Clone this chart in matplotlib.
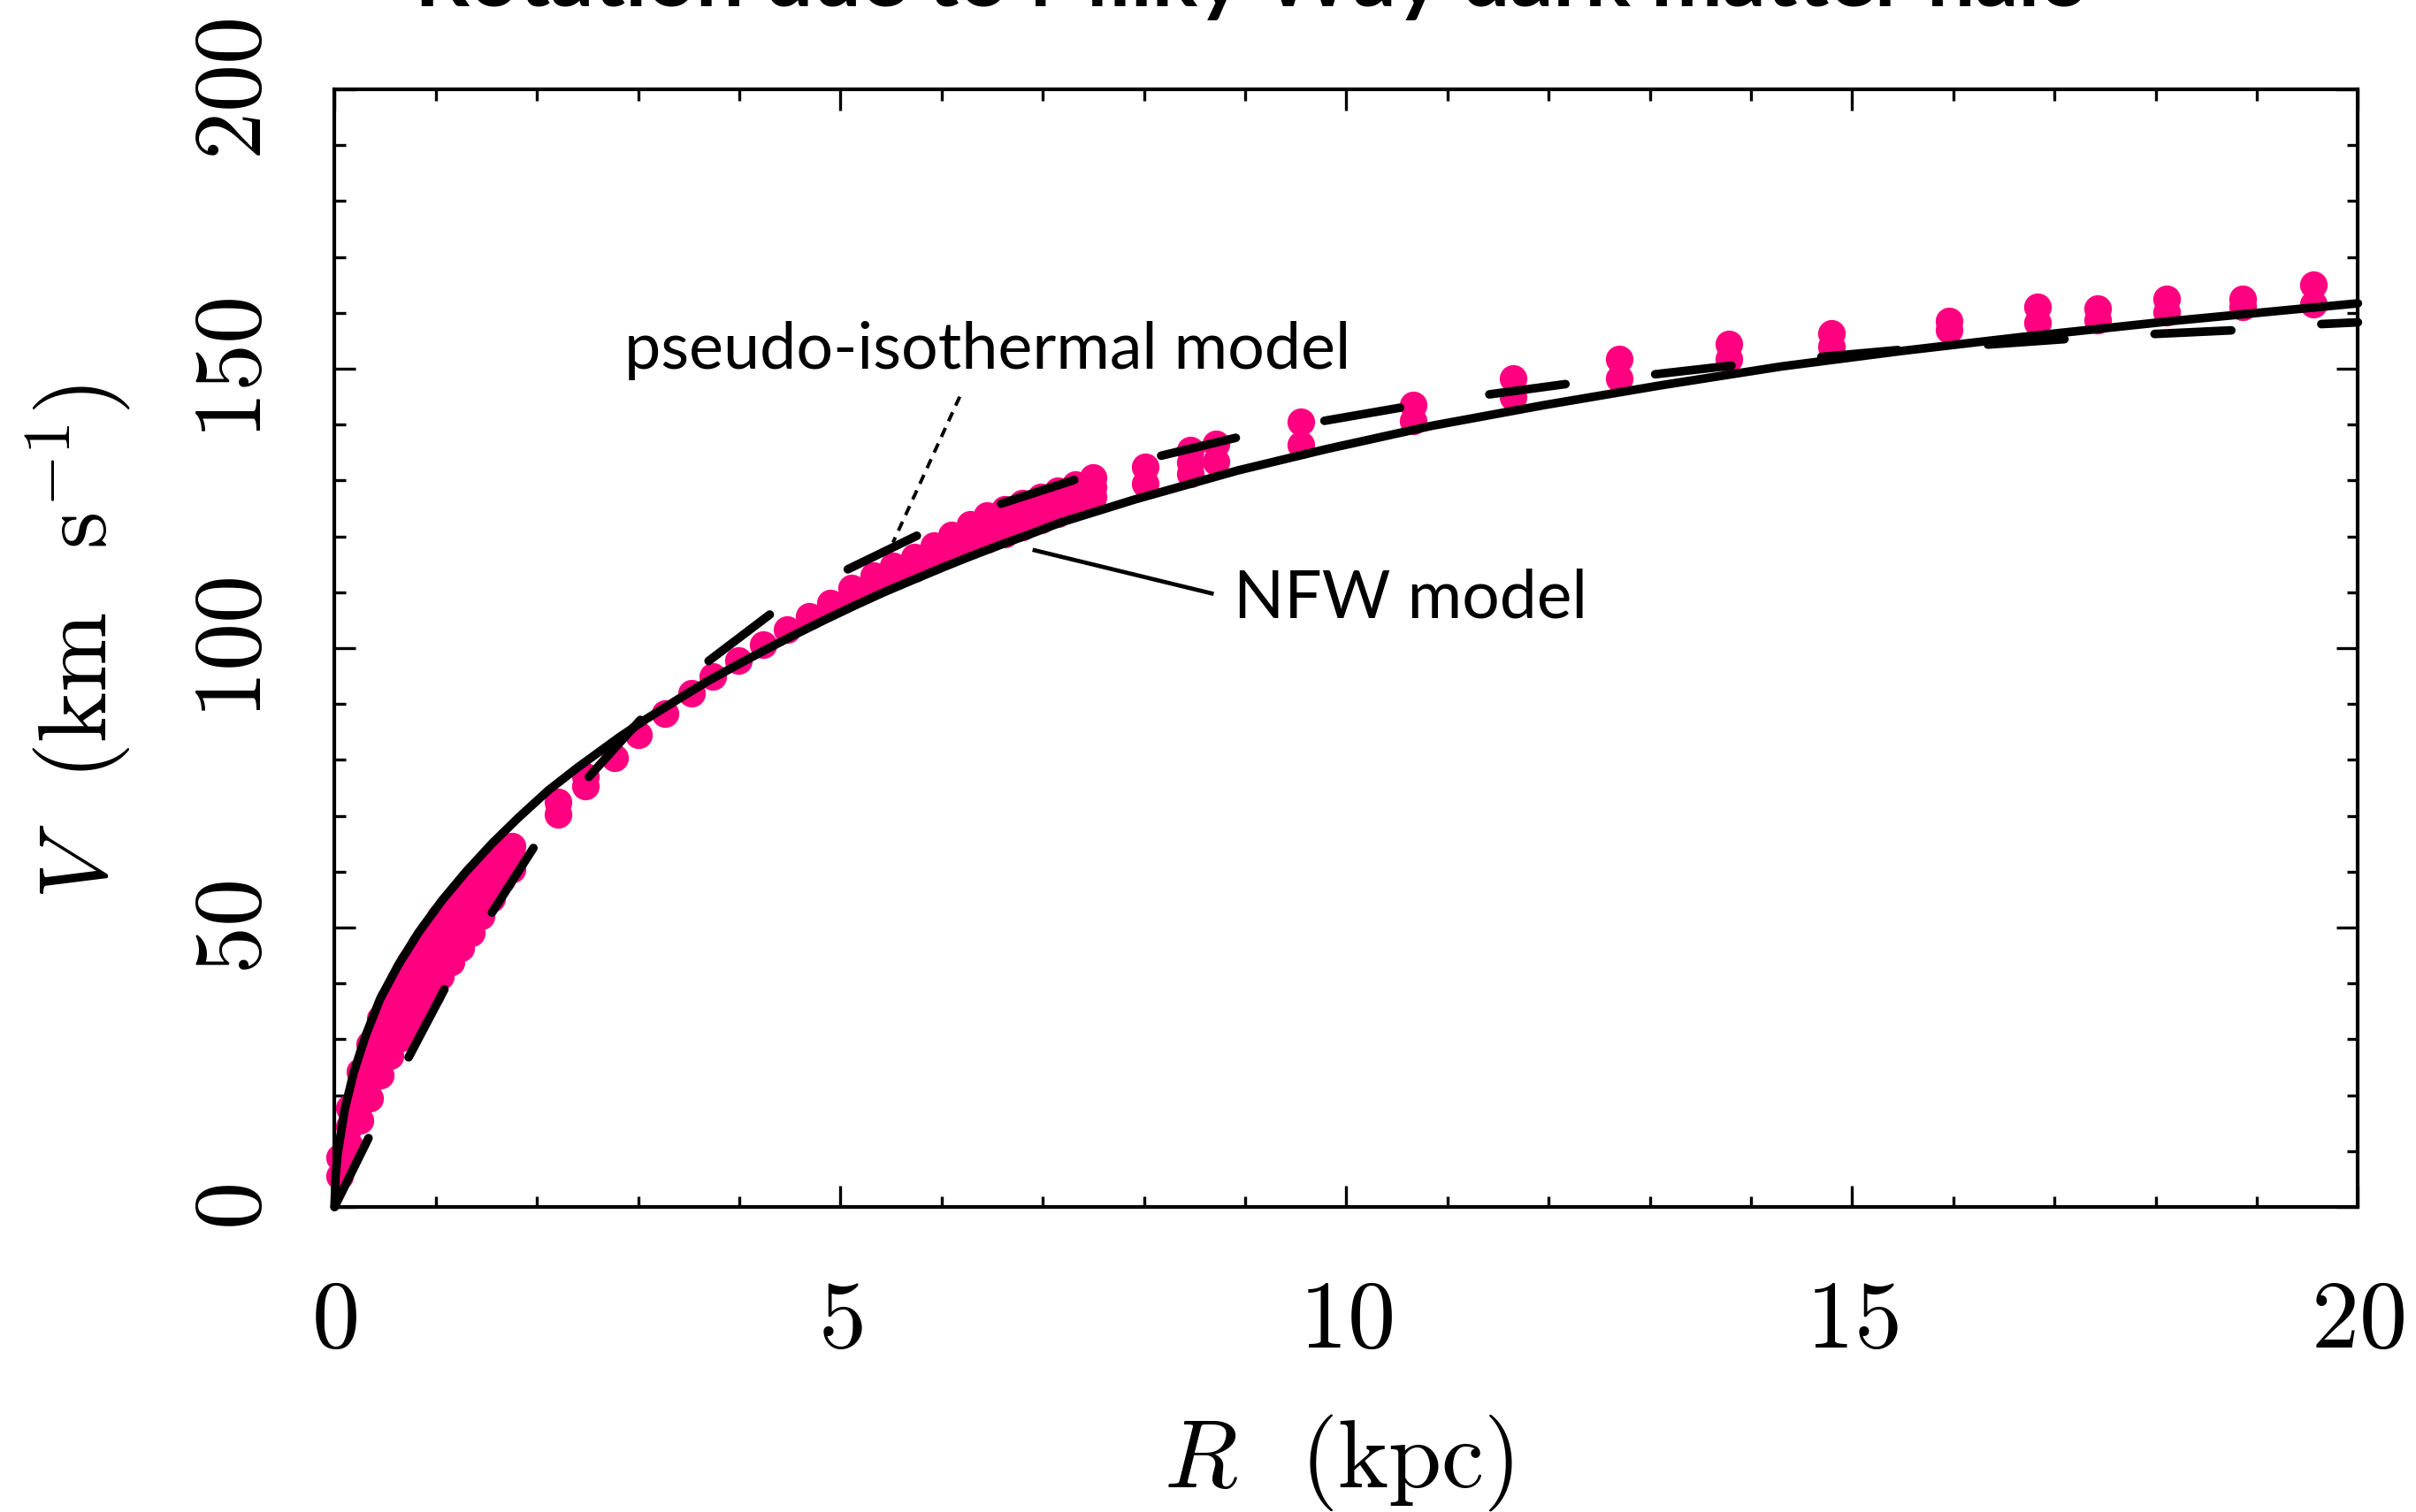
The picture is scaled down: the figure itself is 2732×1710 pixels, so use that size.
import matplotlib
matplotlib.use("Agg")
import matplotlib.pyplot as plt
from matplotlib.ticker import MultipleLocator

plt.rcParams.update({
    "font.family": "cmr10",
    "mathtext.fontset": "cm",
    "axes.formatter.use_mathtext": True,
    "lines.scale_dashes": False,
})

PINK = "#ff0080"

# ---------------------------------------------------------------------------
# Halo rotation samples (R in kpc, V in km/s)
# ---------------------------------------------------------------------------
# Inner region: several velocity samples per radius
inner_r = [0.05, 0.15, 0.25, 0.35, 0.45, 0.55, 0.65, 0.75, 0.85,
           0.95, 1.05, 1.15, 1.25, 1.35, 1.45, 1.55, 1.65, 1.75]
inner_v = [
    [5.5, 8.8],
    [11.0, 14.4, 17.8],
    [15.5, 19.9, 24.2],
    [19.5, 22.7, 25.9, 29.1],
    [23.6, 27.0, 30.4, 33.7],
    [27.0, 30.4, 33.8, 37.2],
    [30.3, 33.7, 37.2, 40.6],
    [32.9, 36.5, 40.2, 43.8],
    [35.4, 39.2, 43.0, 46.8],
    [38.1, 41.9, 45.6, 49.4],
    [41.3, 44.8, 48.4, 51.9],
    [43.9, 47.3, 50.6, 54.0],
    [46.4, 49.6, 52.7, 55.9],
    [49.1, 52.0, 54.9, 57.8],
    [52.1, 54.6, 57.2, 59.7],
    [55.3, 58.4, 61.5],
    [58.5, 60.9, 63.2],
    [60.5, 62.6, 64.6],
]

# Single samples between 2.7 and 5 kpc
mid_r = [2.77, 3.00, 3.27, 3.53, 3.74, 3.99, 4.24, 4.47, 4.69, 4.90]
mid_v = [80.4, 84.5, 88.3, 91.9, 95.0, 97.8, 100.7, 103.4, 105.7, 108.1]

# Band between 5 and 7.5 kpc
band_r = [5.11, 5.33, 5.52, 5.73, 5.92, 6.10, 6.28, 6.45, 6.62, 6.80,
          6.98, 7.15, 7.32, 7.50]
band_v = [
    [109.6, 110.8],
    [111.4, 112.9],
    [112.8, 114.7],
    [114.3, 116.3],
    [115.8, 118.4],
    [117.1, 118.7, 120.3],
    [118.3, 120.2, 122.1],
    [119.4, 121.6, 123.7],
    [120.4, 122.7, 124.9],
    [121.7, 123.9, 126.0],
    [123.0, 125.1, 127.1],
    [124.1, 126.2, 128.2],
    [125.3, 127.3, 129.3],
    [127.0, 128.8, 130.5],
]

# Sparse radii: pairs of samples per radius
stack_r = [2.21, 2.48, 8.01, 8.46, 8.71, 9.55, 10.66, 11.65, 12.70,
           13.78, 14.80, 15.96, 16.83, 17.43, 18.11, 18.86, 19.56]
stack_v = [
    [72.4, 70.3],
    [77.0, 75.3],
    [132.5, 129.4],
    [135.5, 133.3, 131.1],
    [136.5, 133.4],
    [140.5, 136.4],
    [143.5, 140.6],
    [148.2, 145.0],
    [151.7, 148.3],
    [154.5, 151.8],
    [156.4, 153.9],
    [158.5, 157.0],
    [161.0, 158.2],
    [160.7, 158.7],
    [162.5, 160.1],
    [162.5, 161.0],
    [165.1, 161.6],
]

# ---------------------------------------------------------------------------
# Model curves
# ---------------------------------------------------------------------------
nfw_r = [0.0, 0.01, 0.03, 0.10, 0.19, 0.31, 0.45, 0.63, 0.83, 1.06, 1.30,
         1.56, 1.82, 2.11, 2.40, 2.81, 3.08, 3.40, 3.69, 3.98, 4.27, 4.56,
         4.85, 5.14, 5.43, 5.73, 6.02, 6.31, 6.60, 6.89, 7.18, 7.91, 8.93,
         9.80, 10.85, 11.96, 13.10, 14.30, 15.50, 16.64, 18.20, 20.0]
nfw_v = [0.0, 5.5, 9.5, 17.4, 24.1, 30.8, 37.2, 43.3, 49.1, 54.8, 60.0,
         65.1, 69.7, 74.5, 78.6, 84.0, 87.3, 90.9, 94.1, 97.0, 99.8, 102.5,
         105.1, 107.6, 110.0, 112.3, 114.5, 116.6, 118.6, 120.5, 122.5,
         126.6, 131.8, 135.6, 139.8, 143.5, 147.0, 150.4, 153.2, 155.6,
         158.6, 161.7]

iso_r = [0.0, 0.365, 0.73, 1.12, 1.55, 2.0, 2.5, 3.07, 3.69, 4.36, 5.05,
         5.8, 6.58, 7.38, 8.14, 8.97, 9.76, 10.59, 11.37, 12.23, 13.05,
         13.83, 14.69, 15.55, 16.33, 17.11, 17.97, 18.79, 19.65, 20.0]
iso_v = [0.0, 13.4, 26.7, 40.1, 52.5, 65.2, 76.7, 88.1, 97.6, 106.8, 113.9,
         120.5, 125.8, 130.5, 134.3, 137.9, 140.6, 143.2, 145.3, 147.4,
         149.0, 150.6, 152.1, 153.5, 154.3, 155.3, 156.2, 156.9, 158.0,
         158.3]

# Label leader lines (data coordinates)
iso_leader_r = [6.18, 5.52]
iso_leader_v = [145.0, 118.9]
nfw_leader_r = [6.90, 8.69]
nfw_leader_v = [117.6, 109.7]

# ---------------------------------------------------------------------------
# Figure
# ---------------------------------------------------------------------------
W, H = 2732, 1710
fig = plt.figure(figsize=(W / 100, H / 100), dpi=100)
ax_left, ax_right, ax_top, ax_bottom = 378.3, 2666.3, 101.0, 1365.0
ax = fig.add_axes([ax_left / W, 1 - ax_bottom / H,
                   (ax_right - ax_left) / W, (ax_bottom - ax_top) / H])

# flatten the grouped samples
pts_r, pts_v = [], []
for groups_r, groups_v in ((inner_r, inner_v), (band_r, band_v),
                           (stack_r, stack_v)):
    for r, vs in zip(groups_r, groups_v):
        for v in vs:
            pts_r.append(r)
            pts_v.append(v)
pts_r += mid_r
pts_v += mid_v

ax.scatter(pts_r, pts_v, s=22.5 ** 2, color=PINK, linewidths=0,
           zorder=2, clip_on=False)

ax.plot(nfw_r, nfw_v, color="black", lw=7.0, solid_capstyle="round",
        solid_joinstyle="round", zorder=3, clip_on=False)
ax.plot(iso_r, iso_v, color="black", lw=7.0, dashes=(62.5, 73.5),
        dash_capstyle="round", dash_joinstyle="round", zorder=3,
        clip_on=False)

ax.plot(iso_leader_r, iso_leader_v, color="black", lw=2.8,
        dashes=(8.0, 6.0), dash_capstyle="butt", zorder=3)
ax.plot(nfw_leader_r, nfw_leader_v, color="black", lw=3.4,
        solid_capstyle="butt", zorder=3)

label_font = dict(family="Lato", color="black")
t_iso = ax.text(2.865, 150.0, "pseudo-isothermal model", ha="left",
                va="baseline", fontsize=53, **label_font)
t_nfw = ax.text(8.886, 105.5, "NFW model", ha="left", va="baseline",
                fontsize=53, **label_font)

t_title = fig.text(1415 / W, 1 - 7 / H,
                   "Rotation due to Milky Way dark matter halo",
                   ha="center", va="baseline", fontsize=66,
                   family="Lato", fontweight="bold")

# axes limits and ticks
ax.set_xlim(0, 20)
ax.set_ylim(0, 200)
ax.xaxis.set_major_locator(MultipleLocator(5))
ax.xaxis.set_minor_locator(MultipleLocator(1))
ax.yaxis.set_major_locator(MultipleLocator(50))
ax.yaxis.set_minor_locator(MultipleLocator(10))

for sp in ax.spines.values():
    sp.set_linewidth(3.0)

ax.tick_params(which="both", direction="in", top=True, right=True,
               width=2.4, colors="black")
ax.tick_params(which="major", length=17.3)
ax.tick_params(which="minor", length=9.0)
ax.tick_params(axis="x", which="major", labelsize=78, pad=60)
ax.tick_params(axis="y", which="major", labelsize=78, pad=45,
               labelrotation=90)
for lab in ax.get_yticklabels():
    lab.set_verticalalignment("center")

ax.set_xlabel(r"$R$  (kpc)", fontsize=78)
ax.set_ylabel(r"$V$  (km  s$^{-1}$)", fontsize=78)
ax.xaxis.set_label_coords(0.496, -0.184)
ax.yaxis.set_label_coords(-0.0998, 0.5055)

# size the sans-serif labels to their set widths
renderer = fig.canvas.get_renderer()
for txt, width_px in ((t_iso, 822), (t_nfw, 400), (t_title, 1894)):
    w = txt.get_window_extent(renderer).width
    txt.set_fontsize(txt.get_fontsize() * width_px / w)

fig.savefig("out.png", dpi=100, facecolor="white")
